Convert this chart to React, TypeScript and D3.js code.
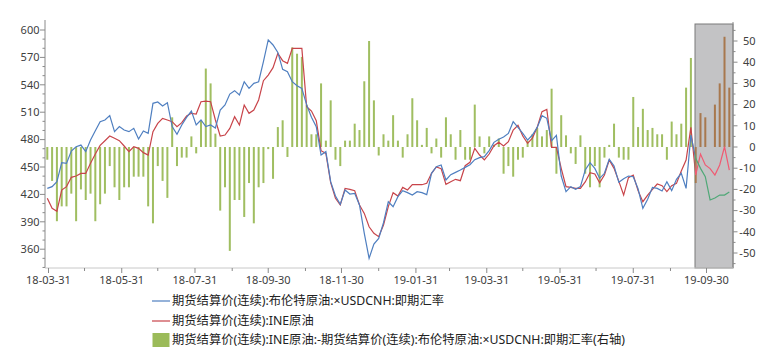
import * as d3 from 'd3';

// sampled every 4 days from 2018-03-30
const startDay = new Date(2018, 2, 30);
const stepDays = 4;

// 期货结算价(连续):布伦特原油 x USDCNH
const brentCny = [
  426.6, 428.5, 433.9, 454.7, 454, 467.5, 472.2, 474, 466.8, 479.5,
  489.8, 499.6, 501.5, 506.2, 488.7, 494.2, 490.5, 488.7, 492.3, 480.6,
  489.4, 486.8, 519.7, 521.2, 516.8, 520.4, 494.2, 485.7, 496, 504.4,
  511.3, 496, 501.5, 494.2, 496, 492.7, 512.4, 517.9, 529.9, 533.6,
  528.8, 543.4, 536.1, 541.6, 543.4, 565.3, 589.1, 583.6, 575.5, 556.9,
  554.4, 543.4, 539, 536.1, 518, 504.4, 494.2, 463.1, 466.8, 433.9,
  418.2, 409.1, 424.8, 420.4, 421.2, 408.4, 377.4, 350, 365.7, 371.9,
  389, 412, 406.6, 417.5, 424.1, 421.9, 419.3, 423, 421.9, 419.7,
  443.1, 450.4, 452.2, 435.8, 441.6, 444.1, 446.7, 449.6, 452.5, 458,
  460.2, 461.3, 467.9, 477, 480.3, 482.8, 486.8, 499.6, 493.4, 486.8,
  479.5, 485, 493.4, 506.2, 503.3, 478.8, 484.7, 440.1, 423, 428.5,
  425.5, 428.5, 446.7, 454.7, 448.5, 437.6, 443.1, 458.4, 451.1, 433.2,
  437.2, 440.1, 439.4, 426.2, 404.7, 414.6, 427.7, 426.6, 423.7, 433.9,
  424.1, 436.5, 443.1, 426.6, 485, 459.5, 448.5, 439.4, 413.9, 416.1,
  419.3, 419.3, 422.6,
];

// 期货结算价(连续):INE原油
const ineCrude = [
  415.7, 404.7, 401.5, 424.8, 428.5, 438.7, 440.1, 443, 443, 454,
  464.2, 473.7, 478.8, 483.9, 481.4, 478.8, 473, 466.8, 472.2, 470.4,
  465.7, 463.1, 488.7, 497.8, 503.3, 501.5, 499.6, 494.2, 498.5, 505.8,
  508.8, 508, 521.5, 522.2, 521.5, 501.5, 483.9, 485, 492.3, 505.1,
  496, 517.9, 508.8, 512.4, 523.4, 544.5, 550.7, 558.8, 574.5, 566.4,
  563.5, 579.9, 579.9, 579.9, 516, 511.3, 500.7, 467.9, 464.9, 432.8,
  415.7, 408.4, 426.6, 425.5, 424.1, 408.4, 399.2, 384.6, 377.4, 373.7,
  386.5, 406.6, 421.9, 418.2, 427.7, 424.8, 430.6, 430.6, 430.6, 432.1,
  443.1, 450, 448.2, 431, 433.9, 436.5, 435, 451.4, 455.1, 470.4,
  463.1, 457.7, 464.2, 473.3, 477, 473, 477.7, 490.5, 495.6, 483.9,
  475.9, 481.7, 493.4, 510.6, 513.1, 471.5, 471.5, 448.5, 428.5, 427.7,
  426.6, 426.6, 433.6, 443.8, 442.3, 432.8, 441.2, 457.6, 448.5, 434.3,
  419.3, 438.3, 441.2, 424.1, 412, 419.3, 425.5, 431.4, 429.5, 423,
  429.5, 432.1, 445.6, 457.6, 493.4, 441.2, 464.2, 452.2, 448.2, 441.2,
  452.2, 472.2, 446.7,
];

// INE - Brent x USDCNH (右轴)
const spread = [
  -6, -16, -35, -28, -28, -22, -35, -20, -25, -22,
  -35, -27, -22, -9, -19, -25, -19, -19, -14, -14,
  -14, -28, -36, -9, -16, -24, 14, -9, -5, -5,
  5, -3, 12.6, 37, 30, 6.3, -30, -19, -49, -25,
  -25, -33, -17, -36, -19, -17, -1, -15, 9.4, 12.6,
  -4.7, 47, 44, 42.5, 20, 6, 6, 30, 3, 22,
  -6, -9, 3, 3, 11, 8, 31, 50, 22, -4,
  6, 3, 15, 3, -5, 6, 23, 12.6, 1, 9,
  -3, 4, -5, 14, 6, -6, 8, -6, -6, 20,
  5, -3, 5, 1, 4, -12.6, -9, -14, -6, -5,
  3, 6, 9, 5, 8, 27.5, -12.6, 15, 5.5, -3,
  -8, 5.5, -12.6, -19, -9, -19, -5, 1, 11, -5,
  -6, -6, 23.6, 9.4, 18, 8, 9, 6, 6, -6,
  12, 6, 11, 28, 42, -17, 16, 14, 0, 20,
  30, 52, 28,
];

const majorTickLabels = [
  '18-03-31', '18-05-31', '18-07-31', '18-09-30', '18-11-30',
  '19-01-31', '19-03-31', '19-05-31', '19-07-31', '19-09-30',
];
const minorTickLabels = [
  '18-04-30', '18-06-30', '18-08-31', '18-10-31', '18-12-31',
  '19-02-28', '19-04-30', '19-06-30', '19-08-31',
];
const leftTicks = [360, 390, 420, 450, 480, 510, 540, 570, 600];
const leftMinor = [340, 350, 370, 380, 400, 410, 430, 440, 460, 470, 490, 500, 520, 530, 550, 560, 580, 590];
const rightTicks = [-50, -40, -30, -20, -10, 0, 10, 20, 30, 40, 50];
const rightMinor = [-55, -45, -35, -25, -15, -5, 5, 15, 25, 35, 45, 55];

const legendLabels = [
  '期货结算价(连续):布伦特原油:×USDCNH:即期汇率',
  '期货结算价(连续):INE原油',
  '期货结算价(连续):INE原油:-期货结算价(连续):布伦特原油:×USDCNH:即期汇率(右轴)',
];

const parseTick = d3.timeParse('%y-%m-%d');

const colors = {
  brent: '#4f7fc0',
  ine: '#c8444a',
  bar: '#9bbb59',
  brentHi: '#4fa877',
  ineHi: '#f05a72',
  barHi: '#a8784e',
  axis: '#8a8a8a',
  label: '#404040',
};

const plot = { left: 45, right: 733, top: 22, bottom: 268 };
const hiStart = 695;
const font = '"Noto Sans", "Noto Sans CJK SC", sans-serif';

export default function App() {
  const dates = brentCny.map((_, i) => d3.timeDay.offset(startDay, i * stepDays));

  const x = d3.scaleTime()
    .domain([parseTick('18-03-31') as Date, parseTick('19-09-30') as Date])
    .range([48.5, 706.5]);
  const yLeft = d3.scaleLinear().domain([360, 600]).range([249.2, 30]);
  const yRight = d3.scaleLinear().domain([-50, 50]).range([253, 41]);

  const line = d3.line<number>()
    .x((_, i) => x(dates[i]))
    .y(d => yLeft(d));

  const barW = 2;
  const bars = (fill: string) =>
    spread.map((v, i) => (
      <rect
        key={i}
        x={x(dates[i]) - barW / 2}
        y={Math.min(yRight(v), yRight(0))}
        width={barW}
        height={Math.abs(yRight(v) - yRight(0))}
        fill={fill}
      />
    ));

  return (
    <svg
      width={784}
      height={360}
      style={{ position: 'absolute', left: 0, top: 0, background: '#fff' }}
      fontFamily={font}
    >
      <defs>
        <clipPath id="clipMain">
          <rect x={plot.left} y={0} width={hiStart - plot.left} height={plot.bottom} />
        </clipPath>
        <clipPath id="clipHi">
          <rect x={hiStart} y={0} width={plot.right - hiStart} height={plot.bottom} />
        </clipPath>
      </defs>

      {/* normal part */}
      <g clipPath="url(#clipMain)">
        <g opacity={0.95}>{bars(colors.bar)}</g>
        <path d={line(ineCrude) || ''} fill="none" stroke={colors.ine} strokeWidth={1.2} />
        <path d={line(brentCny) || ''} fill="none" stroke={colors.brent} strokeWidth={1.2} />
      </g>

      {/* highlighted window */}
      <rect x={hiStart} y={24} width={plot.right - hiStart} height={plot.bottom - 24}
        fill="#c3c3c5" stroke="#7a7a7a" strokeWidth={1} />
      <g clipPath="url(#clipHi)">
        <g>{bars(colors.barHi)}</g>
        <path d={line(ineCrude) || ''} fill="none" stroke={colors.ineHi} strokeWidth={1.2} />
        <path d={line(brentCny) || ''} fill="none" stroke={colors.brentHi} strokeWidth={1.2} />
      </g>

      {/* left axis */}
      <line x1={plot.left} x2={plot.left} y1={20} y2={plot.bottom} stroke={colors.axis} />
      {leftMinor.map(t => (
        <line key={t} x1={plot.left - 2.5} x2={plot.left} y1={yLeft(t)} y2={yLeft(t)} stroke={colors.axis} />
      ))}
      {leftTicks.map(t => (
        <g key={t}>
          <line x1={plot.left - 5} x2={plot.left} y1={yLeft(t)} y2={yLeft(t)} stroke={colors.axis} />
          <text x={39.5} y={yLeft(t)} dy="0.35em" textAnchor="end" fontSize={11} fill={colors.label}>{t}</text>
        </g>
      ))}

      {/* right axis */}
      <line x1={plot.right} x2={plot.right} y1={plot.top} y2={plot.bottom} stroke={colors.axis} />
      {rightMinor.map(t => (
        <line key={t} x1={plot.right} x2={plot.right + 2.5} y1={yRight(t)} y2={yRight(t)} stroke={colors.axis} />
      ))}
      {rightTicks.map(t => (
        <g key={t}>
          <line x1={plot.right} x2={plot.right + 4.5} y1={yRight(t)} y2={yRight(t)} stroke={colors.axis} />
          <text x={755.5} y={yRight(t)} dy="0.35em" textAnchor="end" fontSize={11} fill={colors.label}>{t}</text>
        </g>
      ))}

      {/* bottom axis */}
      <line x1={plot.left} x2={plot.right} y1={plot.bottom} y2={plot.bottom} stroke="#c8c8c8" />
      {minorTickLabels.map(s => {
        const px = x(parseTick(s) as Date);
        return <line key={s} x1={px} x2={px} y1={plot.bottom} y2={plot.bottom + 3} stroke={colors.axis} />;
      })}
      {majorTickLabels.map(s => {
        const px = x(parseTick(s) as Date);
        return (
          <g key={s}>
            <line x1={px} x2={px} y1={plot.bottom} y2={plot.bottom + 5} stroke={colors.axis} />
            <text x={px} y={280} dy="0.35em" textAnchor="middle" fontSize={11} fill={colors.label}>{s}</text>
          </g>
        );
      })}

      {/* legend */}
      <g fontSize={12.3} fill="#222">
        <line x1={152} x2={170} y1={301} y2={301} stroke={colors.brent} strokeWidth={1.2} />
        <text x={172} y={301} dy="0.35em">{legendLabels[0]}</text>
        <line x1={152} x2={170} y1={321} y2={321} stroke={colors.ine} strokeWidth={1.2} />
        <text x={172} y={321} dy="0.35em">{legendLabels[1]}</text>
        <rect x={152.5} y={333} width={17} height={14} fill={colors.bar} />
        <text x={172} y={340} dy="0.35em">{legendLabels[2]}</text>
      </g>
    </svg>
  );
}
